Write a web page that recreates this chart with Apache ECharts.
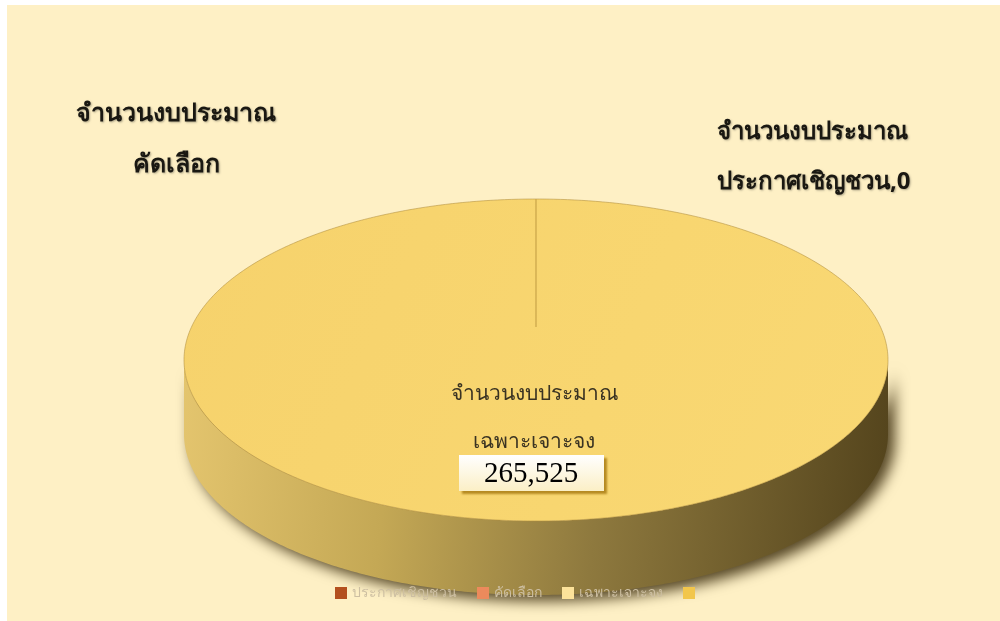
<!DOCTYPE html>
<html>
<head>
<meta charset="utf-8">
<script src="https://cdn.jsdelivr.net/npm/echarts@6/dist/echarts.min.js"></script>
<style>
html,body{margin:0;padding:0;background:#fff;}
#c{width:1000px;height:621px;}
</style>
</head>
<body>
<div id="c"></div>
<script>
// ---- data ----
const categories = ['ประกาศเชิญชวน', 'คัดเลือก', 'เฉพาะเจาะจง', ' '];
const values = [0, 0, 265525, 0];
const labelPrefix = 'จำนวนงบประมาณ';
const legendColors = ['#B4501E', '#EC8A5C', '#FCE29A', '#F2C64C'];

const total = values.reduce((a, b) => a + b, 0);
const starts = [];
(function () { let c = 0; values.forEach(v => { starts.push(c); c += v; }); })();

const chart = echarts.init(document.getElementById('c'));

// layout (pixel geometry of the 3D pie)
const G = { cx: 536, cy: 360, rx: 352, ry: 161, depth: 74, apexDy: -33 };
const TH = 'Noto Sans, DejaVu Sans, sans-serif';

function ept(t, dy) {
  return [G.cx + G.rx * Math.cos(t), G.cy + G.ry * Math.sin(t) + (dy || 0)];
}
function arcPts(a, b, dy) {
  const pts = [];
  const n = Math.max(2, Math.ceil(Math.abs(b - a) / 0.01));
  for (let i = 0; i <= n; i++) pts.push(ept(a + (b - a) * i / n, dy));
  return pts;
}

function labelFor(i, api) {
  const v = values[i];
  const fmt = echarts.format.addCommas(v);
  const els = [];
  const shadow = { textShadowColor: 'rgba(0,0,0,0.3)', textShadowBlur: 2, textShadowOffsetX: 1, textShadowOffsetY: 1 };
  if (i === 0) {
    els.push({ type: 'text', x: 717, y: 107, style: Object.assign({ text: labelPrefix + '\n' + categories[i] + ',' + fmt, fill: '#1a1812', font: 'bold 24px ' + TH, lineHeight: 50, align: 'left', verticalAlign: 'top' }, shadow), z2: 50 });
  } else if (i === 1) {
    els.push({ type: 'text', x: 176, y: 88, style: Object.assign({ text: labelPrefix + '\n' + categories[i], fill: '#1a1812', font: 'bold 25px ' + TH, lineHeight: 51, align: 'center', verticalAlign: 'top' }, shadow), z2: 50 });
  } else if (i === 2) {
    els.push({ type: 'text', x: 534, y: 370, style: { text: labelPrefix + '\n' + categories[i], fill: '#3a3322', font: '500 21px ' + TH, lineHeight: 48, align: 'center', verticalAlign: 'top' }, z2: 50 });
    els.push({ type: 'rect', shape: { x: 459, y: 455, width: 145, height: 36 }, style: { fill: new echarts.graphic.LinearGradient(0, 0, 0, 1, [{ offset: 0, color: '#FFFFFF' }, { offset: 1, color: '#FBEFC6' }]), shadowColor: 'rgba(170,125,20,0.85)', shadowOffsetX: 3, shadowOffsetY: 3, shadowBlur: 2 }, z2: 49 });
    els.push({ type: 'text', x: 531, y: 474, style: { text: fmt, fill: '#000', font: '29px Liberation Serif, serif', align: 'center', verticalAlign: 'middle' }, z2: 51 });
  }
  return els;
}

function makeRender(i) {
  return function (params, api) {
    const children = [];
    const v = api.value(0);
    if (total > 0 && v > 0) {
      const a = -Math.PI / 2 + 2 * Math.PI * starts[i] / total;
      const b = a + 2 * Math.PI * v / total;
      const full = v >= total;
      const ranges = [[0, Math.PI], [2 * Math.PI, 3 * Math.PI], [-2 * Math.PI, -Math.PI]];
      ranges.forEach(r => {
        const s = Math.max(a, r[0]), e = Math.min(b, r[1]);
        if (e > s) {
          const top = arcPts(s, e, 0);
          const bot = arcPts(s, e, G.depth).reverse();
          children.push({
            type: 'polygon', shape: { points: top.concat(bot) }, z2: 1,
            style: {
              fill: new echarts.graphic.LinearGradient(0, 0, 1, 0.3, [
                { offset: 0, color: '#E4C56E' },
                { offset: 0.3, color: '#C4A855' },
                { offset: 0.6, color: '#8E793E' },
                { offset: 1, color: '#55451D' }
              ]),
              shadowColor: 'rgba(55,40,8,0.85)', shadowBlur: 14, shadowOffsetX: 7, shadowOffsetY: 6
            }
          });
        }
      });
      const apex = [G.cx, G.cy + G.apexDy];
      const facePts = full ? arcPts(a, b, 0) : [apex].concat(arcPts(a, b, 0));
      children.push({
        type: 'polygon', shape: { points: facePts }, z2: 2,
        style: {
          fill: new echarts.graphic.LinearGradient(0, 0, 1, 1, [
            { offset: 0, color: '#F6D26C' },
            { offset: 0.6, color: '#F8D670' },
            { offset: 1, color: '#F9D874' }
          ]),
          stroke: 'rgba(175,140,60,0.55)', lineWidth: 1
        }
      });
      const p0 = ept(a, 0);
      children.push({ type: 'line', shape: { x1: apex[0], y1: apex[1], x2: p0[0], y2: p0[1] }, style: { stroke: '#C9A448', lineWidth: 1.2 }, z2: 3 });
    }
    return { type: 'group', children: children.concat(labelFor(i, api)) };
  };
}

const series = categories.map((name, i) => ({
  type: 'custom',
  name: name,
  coordinateSystem: 'none',
  silent: true,
  animation: false,
  itemStyle: { color: legendColors[i] },
  data: [[values[i]]],
  renderItem: makeRender(i)
}));

chart.setOption({
  backgroundColor: '#FFFFFF',
  animation: false,
  graphic: [{ type: 'rect', shape: { x: 7, y: 5, width: 993, height: 616 }, style: { fill: '#FEF0C5' }, z: -10, silent: true }],
  legend: {
    data: categories,
    bottom: 16,
    left: 330,
    icon: 'rect',
    itemWidth: 12,
    itemHeight: 12,
    itemGap: 20,
    textStyle: { color: '#CDBFA2', fontSize: 14, fontFamily: TH },
    z: 10
  },
  series: series
});
</script>
</body>
</html>
